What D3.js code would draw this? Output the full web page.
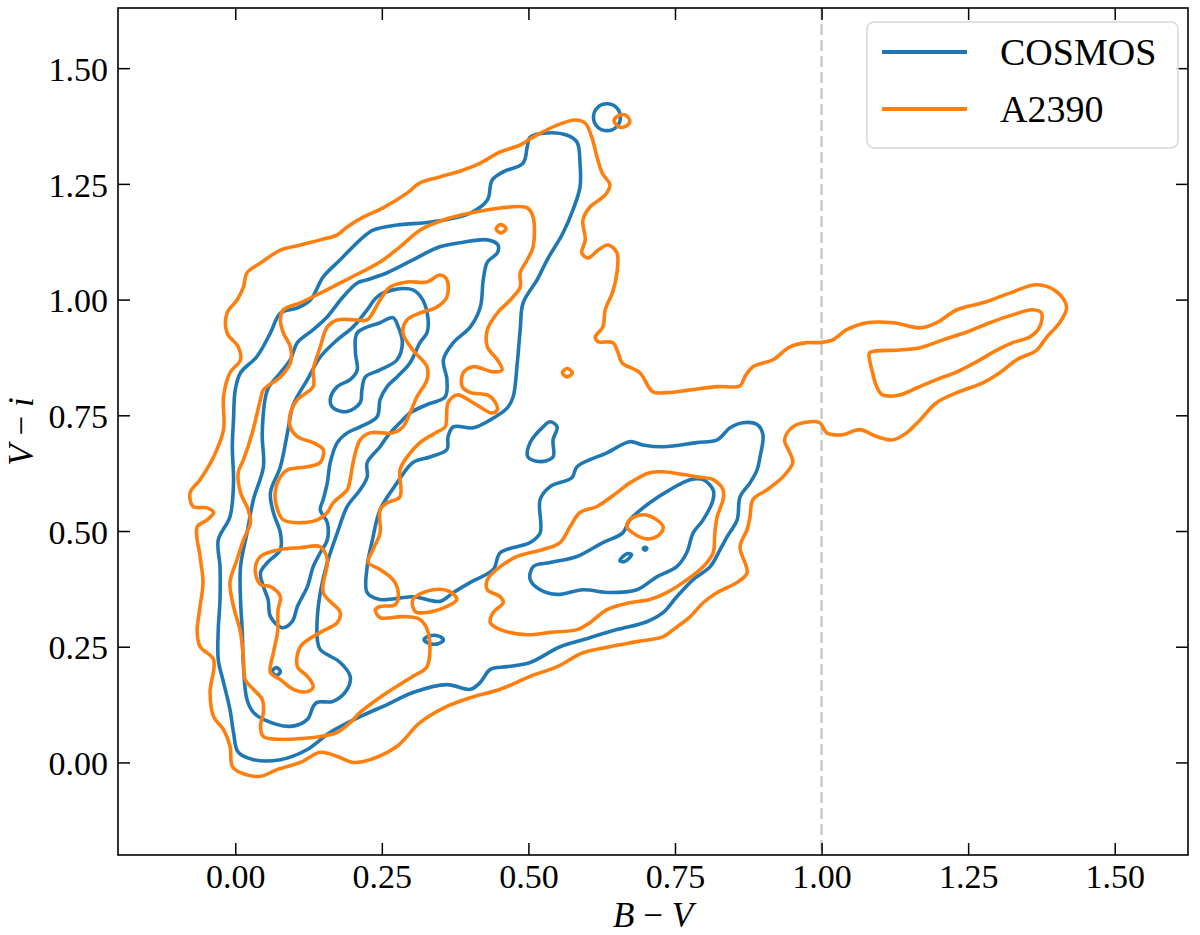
<!DOCTYPE html>
<meta charset="utf-8">
<script src="https://d3js.org/d3.v7.min.js"></script>
<style>
body { margin: 0; background: #fff; }
svg text { font-family: "Liberation Serif", "DejaVu Serif", serif; fill: #000; }
</style>
<div id="chart"></div>
<script>
// contour lines, as [B-V, V-i] pairs

// COSMOS
var cosmosOuter = [[0.503,1.351],[0.532,1.360],[0.566,1.355],[0.583,1.340],[0.588,1.295],[0.588,1.243],[0.576,1.194],[0.559,1.144],[0.532,1.086],[0.515,1.043],[0.491,0.993],[0.486,0.935],[0.481,0.863],[0.474,0.790],[0.464,0.766],[0.435,0.740],[0.406,0.723],[0.372,0.725],[0.363,0.704],[0.361,0.676],[0.332,0.660],[0.303,0.648],[0.276,0.604],[0.247,0.546],[0.234,0.481],[0.225,0.423],[0.225,0.367],[0.247,0.352],[0.303,0.358],[0.349,0.348],[0.372,0.367],[0.401,0.389],[0.440,0.417],[0.452,0.453],[0.503,0.475],[0.520,0.496],[0.520,0.568],[0.537,0.596],[0.574,0.615],[0.583,0.639],[0.634,0.669],[0.673,0.693],[0.695,0.686],[0.730,0.682],[0.787,0.691],[0.822,0.697],[0.844,0.723],[0.866,0.734],[0.890,0.730],[0.900,0.708],[0.895,0.660],[0.890,0.632],[0.878,0.604],[0.861,0.574],[0.856,0.524],[0.839,0.488],[0.827,0.460],[0.810,0.423],[0.781,0.395],[0.753,0.358],[0.730,0.324],[0.702,0.304],[0.651,0.287],[0.593,0.265],[0.554,0.250],[0.503,0.216],[0.464,0.207],[0.435,0.201],[0.418,0.173],[0.401,0.158],[0.361,0.168],[0.303,0.151],[0.259,0.125],[0.213,0.099],[0.162,0.065],[0.123,0.028],[0.077,0.006],[0.031,0.006],[0.005,0.022],[-0.003,0.065],[-0.009,0.114],[-0.020,0.173],[-0.029,0.222],[-0.029,0.287],[-0.026,0.352],[-0.026,0.423],[-0.029,0.481],[-0.009,0.531],[-0.003,0.604],[-0.005,0.682],[-0.003,0.740],[0.000,0.805],[0.009,0.842],[0.037,0.877],[0.060,0.928],[0.077,0.971],[0.106,0.982],[0.128,0.999],[0.150,1.049],[0.179,1.086],[0.213,1.129],[0.235,1.150],[0.276,1.161],[0.337,1.168],[0.401,1.187],[0.430,1.215],[0.438,1.258],[0.457,1.276],[0.491,1.295],[0.498,1.330]];

var cosmosUpperMid = [[0.389,1.124],[0.430,1.129],[0.448,1.118],[0.447,1.101],[0.430,1.081],[0.423,1.043],[0.418,0.984],[0.401,0.941],[0.372,0.907],[0.355,0.870],[0.361,0.827],[0.358,0.790],[0.327,0.773],[0.298,0.755],[0.281,0.734],[0.259,0.704],[0.247,0.682],[0.225,0.648],[0.225,0.617],[0.213,0.589],[0.191,0.553],[0.174,0.496],[0.157,0.432],[0.145,0.367],[0.140,0.315],[0.140,0.265],[0.145,0.244],[0.179,0.216],[0.196,0.186],[0.191,0.158],[0.167,0.132],[0.140,0.130],[0.133,0.121],[0.123,0.093],[0.094,0.078],[0.048,0.093],[0.031,0.108],[0.020,0.136],[0.014,0.207],[0.012,0.281],[0.009,0.352],[0.009,0.423],[0.020,0.496],[0.031,0.568],[0.048,0.639],[0.046,0.712],[0.055,0.805],[0.077,0.842],[0.094,0.870],[0.106,0.907],[0.133,0.935],[0.157,0.963],[0.184,1.006],[0.208,1.036],[0.225,1.043],[0.259,1.058],[0.303,1.086],[0.349,1.114]];

var cosmosUpperInner = [[0.269,1.021],[0.303,1.021],[0.320,0.999],[0.329,0.956],[0.327,0.928],[0.315,0.907],[0.298,0.863],[0.276,0.833],[0.259,0.812],[0.247,0.784],[0.242,0.747],[0.213,0.725],[0.191,0.712],[0.174,0.691],[0.162,0.648],[0.157,0.604],[0.150,0.568],[0.145,0.546],[0.157,0.518],[0.157,0.481],[0.145,0.453],[0.133,0.423],[0.123,0.380],[0.106,0.337],[0.097,0.304],[0.080,0.291],[0.060,0.315],[0.056,0.352],[0.048,0.380],[0.043,0.410],[0.055,0.432],[0.077,0.460],[0.077,0.496],[0.065,0.540],[0.060,0.583],[0.077,0.639],[0.089,0.712],[0.099,0.773],[0.123,0.827],[0.145,0.876],[0.174,0.913],[0.201,0.941],[0.225,0.978],[0.242,1.006]];

var cosmosUpperCore = [[0.208,0.928],[0.247,0.950],[0.269,0.961],[0.278,0.941],[0.285,0.907],[0.276,0.870],[0.247,0.848],[0.222,0.833],[0.216,0.805],[0.213,0.777],[0.191,0.758],[0.167,0.766],[0.162,0.784],[0.174,0.812],[0.196,0.827],[0.208,0.848],[0.205,0.885]];

var cosmosLowerCore = [[0.503,0.395],[0.508,0.423],[0.537,0.432],[0.583,0.445],[0.627,0.475],[0.661,0.496],[0.673,0.524],[0.707,0.561],[0.741,0.589],[0.776,0.611],[0.798,0.611],[0.815,0.589],[0.815,0.568],[0.798,0.524],[0.781,0.496],[0.770,0.453],[0.753,0.423],[0.719,0.401],[0.685,0.373],[0.639,0.367],[0.593,0.373],[0.549,0.363],[0.520,0.373]];

var cosmosIslands = [
  [[0.537,0.736],[0.549,0.725],[0.542,0.697],[0.542,0.660],[0.520,0.650],[0.499,0.660],[0.503,0.691],[0.525,0.725]],
  [[0.657,1.394],[0.650,1.415],[0.634,1.423],[0.618,1.415],[0.611,1.394],[0.618,1.373],[0.634,1.365],[0.650,1.373]],
  [[0.322,0.265],[0.331,0.273],[0.347,0.273],[0.355,0.265],[0.347,0.257],[0.331,0.257]],
  [[0.063,0.196],[0.070,0.205],[0.077,0.196],[0.070,0.188]],
  [[0.656,0.436],[0.668,0.451],[0.676,0.449],[0.664,0.434]],
  [[0.696,0.462],[0.699,0.465],[0.702,0.462],[0.699,0.459]]
];

// A2390
var a2390Outer = [[0.580,1.388],[0.597,1.381],[0.608,1.351],[0.617,1.308],[0.626,1.273],[0.639,1.248],[0.631,1.226],[0.605,1.200],[0.593,1.172],[0.597,1.129],[0.591,1.101],[0.602,1.090],[0.619,1.107],[0.636,1.118],[0.651,1.101],[0.651,1.058],[0.643,1.014],[0.631,0.978],[0.627,0.941],[0.614,0.919],[0.619,0.909],[0.644,0.907],[0.653,0.885],[0.660,0.863],[0.690,0.842],[0.712,0.801],[0.736,0.799],[0.776,0.805],[0.822,0.812],[0.861,0.814],[0.869,0.833],[0.883,0.855],[0.917,0.870],[0.946,0.898],[0.975,0.907],[0.997,0.907],[1.019,0.913],[1.043,0.935],[1.077,0.950],[1.122,0.950],[1.168,0.939],[1.196,0.950],[1.231,0.978],[1.275,0.993],[1.321,1.014],[1.367,1.032],[1.401,1.017],[1.418,0.984],[1.406,0.950],[1.384,0.919],[1.367,0.891],[1.333,0.870],[1.304,0.842],[1.275,0.820],[1.231,0.799],[1.196,0.777],[1.168,0.740],[1.145,0.712],[1.122,0.697],[1.094,0.704],[1.065,0.719],[1.036,0.708],[1.009,0.712],[0.997,0.734],[0.980,0.736],[0.951,0.725],[0.937,0.697],[0.946,0.669],[0.951,0.648],[0.934,0.617],[0.907,0.589],[0.883,0.568],[0.878,0.531],[0.873,0.503],[0.861,0.466],[0.873,0.410],[0.856,0.389],[0.822,0.367],[0.798,0.345],[0.776,0.315],[0.747,0.287],[0.730,0.272],[0.685,0.261],[0.639,0.250],[0.593,0.237],[0.549,0.207],[0.503,0.186],[0.452,0.158],[0.401,0.140],[0.361,0.121],[0.315,0.086],[0.276,0.035],[0.230,0.006],[0.201,0.000],[0.174,0.013],[0.145,0.022],[0.111,0.000],[0.072,-0.015],[0.043,-0.030],[0.009,-0.022],[-0.005,-0.009],[-0.009,0.035],[-0.020,0.071],[-0.037,0.099],[-0.043,0.151],[-0.037,0.222],[-0.060,0.250],[-0.065,0.281],[-0.060,0.337],[-0.055,0.389],[-0.060,0.445],[-0.065,0.509],[-0.048,0.524],[-0.037,0.540],[-0.048,0.550],[-0.072,0.553],[-0.077,0.583],[-0.060,0.611],[-0.037,0.660],[-0.020,0.719],[-0.020,0.790],[-0.009,0.842],[0.009,0.870],[0.005,0.898],[-0.014,0.928],[-0.014,0.971],[0.003,0.999],[0.014,1.027],[0.020,1.058],[0.043,1.079],[0.077,1.107],[0.111,1.118],[0.145,1.129],[0.174,1.140],[0.191,1.157],[0.218,1.178],[0.252,1.198],[0.293,1.230],[0.315,1.252],[0.349,1.265],[0.389,1.280],[0.418,1.295],[0.452,1.319],[0.486,1.334],[0.508,1.351],[0.549,1.377]];

var a2390UpperMid = [[0.082,0.978],[0.111,0.993],[0.145,1.014],[0.179,1.036],[0.213,1.058],[0.247,1.081],[0.281,1.114],[0.315,1.150],[0.355,1.172],[0.401,1.187],[0.452,1.198],[0.498,1.198],[0.508,1.178],[0.508,1.114],[0.498,1.086],[0.486,1.058],[0.486,1.027],[0.469,0.999],[0.447,0.971],[0.430,0.935],[0.430,0.898],[0.447,0.870],[0.455,0.848],[0.440,0.844],[0.406,0.855],[0.389,0.842],[0.387,0.812],[0.401,0.799],[0.430,0.794],[0.443,0.779],[0.447,0.762],[0.438,0.755],[0.406,0.777],[0.378,0.794],[0.363,0.777],[0.358,0.725],[0.344,0.714],[0.315,0.691],[0.293,0.660],[0.281,0.632],[0.281,0.574],[0.259,0.561],[0.247,0.546],[0.247,0.496],[0.235,0.460],[0.227,0.432],[0.247,0.417],[0.269,0.395],[0.278,0.367],[0.273,0.341],[0.247,0.337],[0.239,0.330],[0.247,0.313],[0.286,0.315],[0.315,0.309],[0.329,0.281],[0.327,0.207],[0.303,0.186],[0.259,0.151],[0.213,0.108],[0.196,0.086],[0.174,0.065],[0.145,0.056],[0.072,0.050],[0.048,0.056],[0.043,0.078],[0.048,0.108],[0.046,0.136],[0.031,0.158],[0.017,0.179],[0.014,0.222],[0.009,0.281],[-0.003,0.337],[-0.009,0.389],[0.003,0.438],[0.014,0.481],[0.026,0.518],[0.022,0.546],[0.009,0.583],[0.005,0.626],[0.014,0.654],[0.029,0.712],[0.043,0.784],[0.048,0.805],[0.077,0.833],[0.094,0.863],[0.094,0.898],[0.082,0.928],[0.077,0.956]];

var a2390UpperInner = [[0.174,0.956],[0.208,0.956],[0.225,0.956],[0.247,0.999],[0.264,1.027],[0.293,1.038],[0.327,1.038],[0.349,1.053],[0.361,1.043],[0.361,1.006],[0.344,0.984],[0.315,0.971],[0.293,0.956],[0.286,0.928],[0.303,0.891],[0.327,0.855],[0.327,0.827],[0.310,0.790],[0.298,0.755],[0.286,0.725],[0.269,0.712],[0.230,0.712],[0.213,0.697],[0.201,0.648],[0.196,0.611],[0.191,0.589],[0.167,0.561],[0.157,0.540],[0.140,0.524],[0.106,0.518],[0.082,0.524],[0.072,0.546],[0.068,0.583],[0.077,0.617],[0.089,0.632],[0.123,0.639],[0.145,0.648],[0.150,0.676],[0.133,0.691],[0.106,0.704],[0.094,0.725],[0.094,0.755],[0.106,0.784],[0.133,0.812],[0.133,0.848],[0.145,0.898],[0.157,0.941]];

var a2390LowerLeft = [[0.043,0.445],[0.077,0.460],[0.111,0.464],[0.145,0.466],[0.157,0.438],[0.150,0.367],[0.179,0.324],[0.174,0.302],[0.145,0.281],[0.111,0.250],[0.106,0.207],[0.123,0.186],[0.133,0.164],[0.123,0.153],[0.099,0.158],[0.077,0.179],[0.060,0.194],[0.065,0.237],[0.072,0.281],[0.073,0.330],[0.077,0.358],[0.060,0.380],[0.043,0.384],[0.034,0.417]];

var a2390LowerMid = [[0.430,0.395],[0.452,0.423],[0.481,0.445],[0.525,0.460],[0.554,0.475],[0.571,0.509],[0.588,0.540],[0.617,0.553],[0.651,0.583],[0.673,0.604],[0.707,0.626],[0.730,0.628],[0.764,0.622],[0.787,0.617],[0.815,0.611],[0.832,0.589],[0.832,0.568],[0.822,0.531],[0.818,0.496],[0.815,0.453],[0.798,0.423],[0.764,0.389],[0.736,0.367],[0.707,0.352],[0.673,0.345],[0.634,0.330],[0.605,0.302],[0.583,0.287],[0.537,0.281],[0.498,0.276],[0.452,0.287],[0.435,0.302],[0.440,0.324],[0.457,0.345],[0.452,0.358],[0.430,0.373]];

var a2390RightCore = [[1.082,0.885],[1.133,0.891],[1.168,0.896],[1.207,0.913],[1.248,0.930],[1.287,0.950],[1.326,0.967],[1.360,0.978],[1.375,0.971],[1.372,0.941],[1.355,0.919],[1.326,0.907],[1.299,0.891],[1.265,0.866],[1.231,0.844],[1.196,0.827],[1.162,0.809],[1.133,0.794],[1.104,0.794],[1.094,0.812],[1.087,0.842],[1.082,0.870]];

var a2390Islands = [
  [[0.303,0.352],[0.337,0.373],[0.366,0.369],[0.378,0.352],[0.361,0.337],[0.327,0.324],[0.307,0.326]],
  [[0.673,0.524],[0.695,0.535],[0.719,0.524],[0.730,0.507],[0.719,0.488],[0.702,0.483],[0.678,0.496],[0.668,0.509]],
  [[0.646,1.386],[0.653,1.397],[0.665,1.399],[0.673,1.386],[0.667,1.375],[0.655,1.373]],
  [[0.445,1.153],[0.453,1.162],[0.462,1.153],[0.453,1.144]],
  [[0.558,0.842],[0.566,0.851],[0.575,0.842],[0.566,0.833]]
];

var xTicks = [0, 0.25, 0.5, 0.75, 1.0, 1.25, 1.5];
var yTicks = [0, 0.25, 0.5, 0.75, 1.0, 1.25, 1.5];
var cutColour = 1.0;

var cosmosLines = [cosmosOuter, cosmosUpperMid, cosmosUpperInner, cosmosUpperCore, cosmosLowerCore].concat(cosmosIslands);
var a2390Lines = [a2390Outer, a2390UpperMid, a2390UpperInner, a2390LowerLeft, a2390LowerMid, a2390RightCore].concat(a2390Islands);

var series = [
  { name: "COSMOS", colour: "#1f77b4", lines: cosmosLines },
  { name: "A2390",  colour: "#ff7f0e", lines: a2390Lines }
];

var margin = { top: 8, right: 12, bottom: 80, left: 118 },
    width = 1200 - margin.left - margin.right,
    height = 935 - margin.top - margin.bottom;

var svg = d3.select("#chart").append("svg")
    .attr("width", width + margin.left + margin.right)
    .attr("height", height + margin.top + margin.bottom);

var g = svg.append("g")
    .attr("transform", "translate(" + margin.left + "," + margin.top + ")");

var x = d3.scaleLinear().domain([-0.2, 1.625]).range([0, width]);
var y = d3.scaleLinear().domain([-0.2, 1.63]).range([height, 0]);

svg.append("defs").append("clipPath").attr("id", "plot-clip")
  .append("rect").attr("width", width).attr("height", height);

// dashed cut at B-V = 1
g.append("line")
    .attr("x1", x(cutColour)).attr("x2", x(cutColour))
    .attr("y1", 0).attr("y2", height)
    .attr("stroke", "#c4c4c4")
    .attr("stroke-width", 2.2)
    .attr("stroke-dasharray", "11,5");

var contour = d3.line()
    .x(function(d) { return x(d[0]); })
    .y(function(d) { return y(d[1]); })
    .curve(d3.curveCatmullRomClosed.alpha(0.5));

var plot = g.append("g").attr("clip-path", "url(#plot-clip)");
series.forEach(function(s) {
  plot.append("g").selectAll("path")
    .data(s.lines)
    .enter().append("path")
      .attr("d", contour)
      .attr("fill", "none")
      .attr("stroke", s.colour)
      .attr("stroke-width", 3.6)
      .attr("stroke-linejoin", "round");
});

// axes, ticks pointing in on all four sides
var fmt = d3.format(".2f");
var xAxis = g.append("g")
    .attr("transform", "translate(0," + height + ")")
    .call(d3.axisBottom(x).tickValues(xTicks).tickFormat(fmt).tickSize(-12).tickSizeOuter(0).tickPadding(9));
var yAxis = g.append("g")
    .call(d3.axisLeft(y).tickValues(yTicks).tickFormat(fmt).tickSize(-12).tickSizeOuter(0).tickPadding(10));
g.append("g")
    .call(d3.axisTop(x).tickValues(xTicks).tickFormat("").tickSize(-12).tickSizeOuter(0));
g.append("g")
    .attr("transform", "translate(" + width + ",0)")
    .call(d3.axisRight(y).tickValues(yTicks).tickFormat("").tickSize(-12).tickSizeOuter(0));

g.selectAll(".domain").remove();
g.selectAll(".tick line").attr("stroke", "#000").attr("stroke-width", 1.5);
g.selectAll(".tick text").attr("font-size", 34).attr("font-family", "Liberation Serif, serif");
yAxis.selectAll(".tick text").attr("dy", "0.36em");

g.append("rect")
    .attr("width", width).attr("height", height)
    .attr("fill", "none").attr("stroke", "#000").attr("stroke-width", 1.6);

// axis labels
var xl = g.append("text")
    .attr("x", width / 2).attr("y", height + 72)
    .attr("text-anchor", "middle")
    .attr("font-size", 35);
xl.append("tspan").attr("font-style", "italic").text("B");
xl.append("tspan").text(" \u2212 ");
xl.append("tspan").attr("font-style", "italic").text("V");

var yl = svg.append("text")
    .attr("transform", "translate(33," + (margin.top + height / 2) + ") rotate(-90)")
    .attr("text-anchor", "middle")
    .attr("font-size", 35);
yl.append("tspan").attr("font-style", "italic").text("V");
yl.append("tspan").text(" \u2212 ");
yl.append("tspan").attr("font-style", "italic").text("i");

// legend
var legend = svg.append("g").attr("transform", "translate(867,22)");
legend.append("rect")
    .attr("width", 311).attr("height", 126)
    .attr("rx", 7)
    .attr("fill", "#fff").attr("fill-opacity", 0.8)
    .attr("stroke", "#d8d8d8").attr("stroke-width", 1.5);
series.forEach(function(s, i) {
  var row = legend.append("g").attr("transform", "translate(0," + (30 + i * 57) + ")");
  row.append("line")
      .attr("x1", 15).attr("x2", 100)
      .attr("stroke", s.colour).attr("stroke-width", 4);
  row.append("text")
      .attr("x", 133).attr("y", 13)
      .attr("font-size", 38)
      .text(s.name);
});
</script>
